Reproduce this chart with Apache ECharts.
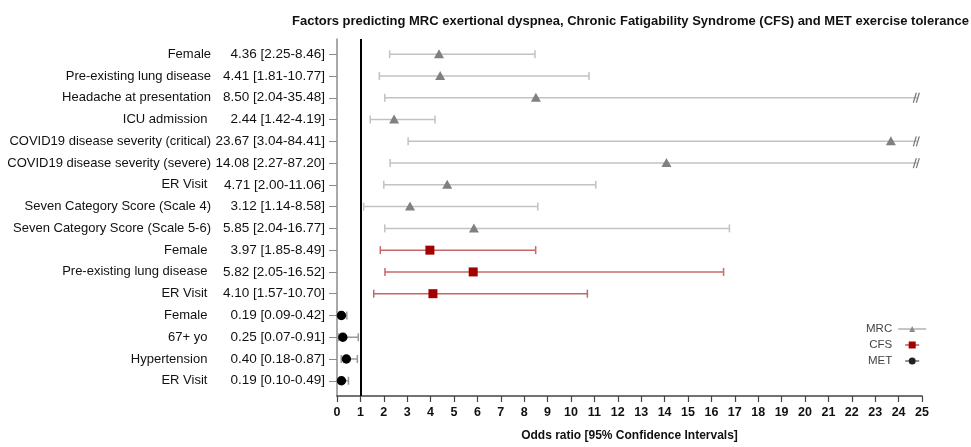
<!DOCTYPE html>
<html>
<head>
<meta charset="utf-8">
<script src="https://cdn.jsdelivr.net/npm/echarts@6/dist/echarts.min.js"></script>
<style>
  html, body { margin: 0; padding: 0; background: #fff; }
  #container { width: 971px; height: 447px; }
</style>
</head>
<body>
<div id="container"></div>
<script>
// rows top to bottom
var factorNames = ['Female', 'Pre-existing lung disease', 'Headache at presentation', 'ICU admission ',
	'COVID19 disease severity (critical)', 'COVID19 disease severity (severe)', 'ER Visit ',
	'Seven Category Score (Scale 4)', 'Seven Category Score (Scale 5-6)',
	'Female ', 'Pre-existing lung disease ', 'ER Visit ',
	'Female ', '67+ yo ', 'Hypertension ', 'ER Visit '];
var groups = ['MRC', 'MRC', 'MRC', 'MRC', 'MRC', 'MRC', 'MRC', 'MRC', 'MRC',
	'CFS', 'CFS', 'CFS',
	'MET', 'MET', 'MET', 'MET'];
var oddsRatio = [4.36, 4.41, 8.50, 2.44, 23.67, 14.08, 4.71, 3.12, 5.85, 3.97, 5.82, 4.10, 0.19, 0.25, 0.40, 0.19];
var ciLow = [2.25, 1.81, 2.04, 1.42, 3.04, 2.27, 2.00, 1.14, 2.04, 1.85, 2.05, 1.57, 0.09, 0.07, 0.18, 0.10];
var ciHigh = [8.46, 10.77, 35.48, 4.19, 84.41, 87.20, 11.06, 8.58, 16.77, 8.49, 16.52, 10.70, 0.42, 0.91, 0.87, 0.49];
var xTicks = [0, 25, 1]; // min, max, interval
var breakAt = 24.8; // bars past the axis end get cut here with a "//"

var rowIdx = factorNames.map(function(n, i) { return i; });

var styles = {
	MRC: { line: '#c2c2c2', mark: '#808080', shape: 'triangle' },
	CFS: { line: '#c46868', mark: '#a30000', shape: 'square' },
	MET: { line: '#9a9a9a', mark: '#000000', shape: 'circle' }
};

function orLabel(i) {
	return oddsRatio[i].toFixed(2) + ' [' + ciLow[i].toFixed(2) + '-' + ciHigh[i].toFixed(2) + ']';
}

function getSeriesData(g) {
	var arr = [];
	for (var i = 0; i < groups.length; i++) {
		if (groups[i] == g) {
			arr.push([i, oddsRatio[i], ciLow[i], ciHigh[i]]);
		}
	}
	return arr;
}

function makeRender(g) {
	var st = styles[g];
	return function(params, api) {
		var row = api.value(0);
		var cut = api.value(3) > breakAt;
		var pMid = api.coord([api.value(1), row]);
		var pLo = api.coord([api.value(2), row]);
		var pHi = api.coord([cut ? breakAt : api.value(3), row]);
		var y = pMid[1];
		var lineSt = { stroke: st.line, lineWidth: 1.5 };
		var kids = [
			{ type: 'line', shape: { x1: pLo[0], y1: y, x2: pHi[0], y2: y }, style: lineSt },
			{ type: 'line', shape: { x1: pLo[0], y1: y - 4, x2: pLo[0], y2: y + 4 }, style: lineSt }
		];
		if (cut) {
			kids.push({ type: 'line', shape: { x1: pHi[0] - 4, y1: y + 5, x2: pHi[0] - 1, y2: y - 5 }, style: { stroke: '#777', lineWidth: 1.2 } });
			kids.push({ type: 'line', shape: { x1: pHi[0] - 1, y1: y + 5, x2: pHi[0] + 2, y2: y - 5 }, style: { stroke: '#777', lineWidth: 1.2 } });
		} else {
			kids.push({ type: 'line', shape: { x1: pHi[0], y1: y - 4, x2: pHi[0], y2: y + 4 }, style: lineSt });
		}
		var x = pMid[0];
		if (st.shape == 'triangle') {
			kids.push({ type: 'polygon', shape: { points: [[x - 5, y + 4], [x + 5, y + 4], [x, y - 5]] }, style: { fill: st.mark } });
		} else if (st.shape == 'square') {
			kids.push({ type: 'rect', shape: { x: x - 4.5, y: y - 4.5, width: 9, height: 9 }, style: { fill: st.mark } });
		} else {
			kids.push({ type: 'circle', shape: { cx: x, cy: y, r: 4.7 }, style: { fill: st.mark } });
		}
		return { type: 'group', children: kids };
	};
}

var corners = ' M0,0 L0,0 M30,10 L30,10';
var legendIcons = {
	MRC: 'path://M1,4.5 L29,4.5 L29,5.5 L1,5.5 Z M12,8 L15,2 L18,8 Z' + corners,
	CFS: 'path://M8,4.5 L22,4.5 L22,5.5 L8,5.5 Z M11.5,1.5 L18.5,1.5 L18.5,8.5 L11.5,8.5 Z' + corners,
	MET: 'path://M8,4.5 L22,4.5 L22,5.5 L8,5.5 Z M18.5,5 A3.5,3.5 0 1,1 11.5,5 A3.5,3.5 0 1,1 18.5,5 Z' + corners
};

function makeSeries(g) {
	var s = {
		name: g,
		type: 'custom',
		renderItem: makeRender(g),
		encode: { x: [1, 2], y: 0 },
		itemStyle: { color: styles[g].mark },
		data: getSeriesData(g),
		silent: true
	};
	if (g == 'MRC') {
		s.markLine = {
			silent: true,
			symbol: ['none', 'none'],
			label: { show: false },
			lineStyle: { color: '#000', width: 2, type: 'solid' },
			data: [{ xAxis: 1 }]
		};
	}
	return s;
}

var myChart = echarts.init(document.getElementById('container'));
var font = "'Liberation Sans', Arial, sans-serif";
var yBase = {
	type: 'value',
	min: -0.7,
	max: 15.7,
	inverse: true,
	position: 'left',
	offset: 0,
	splitLine: { show: false }
};

option = {
	animation: false,
	textStyle: { fontFamily: font },
	title: {
		text: 'Factors predicting MRC exertional dyspnea, Chronic Fatigability Syndrome (CFS) and MET exercise tolerance',
		left: 287,
		top: 10,
		textStyle: { fontSize: 13, fontWeight: 'bold', color: '#111', fontFamily: font }
	},
	grid: { left: 337, right: 49, top: 39, bottom: 51 },
	legend: {
		orient: 'vertical',
		left: 861,
		top: 318,
		align: 'right',
		itemWidth: 30,
		itemHeight: 10,
		itemGap: 4,
		textStyle: { fontSize: 11.5, color: '#444', fontFamily: "'Liberation Sans Narrow', " + font },
		data: [
			{ name: 'MRC', icon: legendIcons.MRC, itemStyle: { color: '#8c8c8c' } },
			{ name: 'CFS', icon: legendIcons.CFS },
			{ name: 'MET', icon: legendIcons.MET, itemStyle: { color: '#222' } }
		]
	},
	xAxis: {
		type: 'value',
		min: xTicks[0],
		max: xTicks[1],
		interval: xTicks[2],
		name: 'Odds ratio [95% Confidence Intervals]',
		nameLocation: 'middle',
		nameGap: 34,
		nameTextStyle: { fontSize: 12, fontWeight: 'bold', color: '#111' },
		axisLine: { onZero: false, lineStyle: { color: '#444', width: 1.5 } },
		axisTick: { length: 6, lineStyle: { color: '#444', width: 1.2 } },
		axisLabel: { margin: 10, fontSize: 12.5, fontWeight: 'bold', color: '#111' },
		splitLine: { show: false }
	},
	yAxis: [
		Object.assign({}, yBase, {
			axisLine: { show: true, onZero: false, lineStyle: { color: '#8c8c8c', width: 1.5 } },
			axisTick: { show: true, length: 8, customValues: rowIdx, lineStyle: { color: '#8c8c8c' } },
			axisLabel: {
				margin: 12, fontSize: 13.5, color: '#111', customValues: rowIdx,
				formatter: function(v) { return orLabel(Math.round(v)); }
			}
		}),
		Object.assign({}, yBase, {
			axisLine: { show: false, onZero: false },
			axisTick: { show: false },
			axisLabel: {
				margin: 126, fontSize: 13, color: '#111', customValues: rowIdx,
				formatter: function(v) { return factorNames[Math.round(v)]; }
			}
		})
	],
	series: ['MRC', 'CFS', 'MET'].map(makeSeries)
};

myChart.setOption(option);
</script>
</body>
</html>
